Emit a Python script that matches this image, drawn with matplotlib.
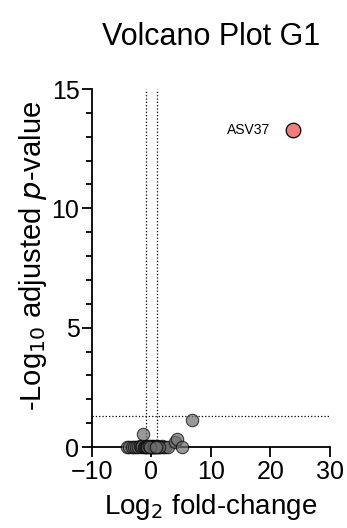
import matplotlib.pyplot as plt

plt.rcParams['font.family'] = ['Liberation Sans', 'DejaVu Sans']

# log2 fold-change and -log10 adjusted p-value
lfc = [-4.1, -3.7, -3.3, -2.9, -2.6, -2.3, -2.0, -1.8, -1.6, -1.3, -1.1, -0.9, -0.7,
       -0.5, -0.3, -0.1, 0.0, 0.0, 0.1, 0.3, 0.5, 0.7, 0.9, 1.1, 1.4, 1.7, 2.0, 2.3,
       2.7, -0.8, -0.4, 0.2, 0.4, 0.6, 1.0, 1.2, -0.2, 0.8,
       -1.4, 3.9, 4.3, 5.1, 6.8]
padj = [0.0, 0.0, 0.0, 0.0, 0.02, 0.0, 0.03, 0.0, 0.05, 0.0, 0.02, 0.0, 0.04,
        0.0, 0.02, 0.0, 0.0, 0.05, 0.0, 0.03, 0.0, 0.04, 0.0, 0.02, 0.0, 0.03, 0.0, 0.02,
        0.0, 0.01, 0.03, 0.02, 0.0, 0.01, 0.03, 0.0, 0.01, 0.02,
        0.54, 0.2, 0.33, 0.0, 1.13]
hit_lfc = [23.8]
hit_padj = [13.3]
hit_label = 'ASV37'

fc_cut = [-1, 1]
p_cut = 1.3

fig = plt.figure(figsize=(3.47, 5.28), dpi=100)
ax = fig.add_axes([0.265, 0.1534, 0.686, 0.678])

for x in fc_cut:
    ax.plot([x, x], [0, 15], ls=':', color='black', lw=0.9)
ax.plot([-10, 30], [p_cut, p_cut], ls=':', color='black', lw=0.9)

ax.scatter(lfc, padj, s=80, c='#6e6e6e', alpha=0.7, edgecolors='black', linewidths=0.8,
           clip_on=False, zorder=3)
ax.scatter(hit_lfc, hit_padj, s=110, c='#f47c7c', edgecolors='black', linewidths=0.9,
           clip_on=False, zorder=4)
ax.text(hit_lfc[0] - 3.9, hit_padj[0], hit_label, ha='right', va='center', fontsize=10)

ax.set_xlim(-10, 30)
ax.set_ylim(0, 15)
ax.set_xticks([-10, 0, 10, 20, 30])
ax.set_yticks([0, 5, 10, 15])
ax.set_yticks(range(0, 16), minor=True)
for s in ['top', 'right']:
    ax.spines[s].set_visible(False)
for s in ['left', 'bottom']:
    ax.spines[s].set_linewidth(1.3)
ax.tick_params(which='major', length=7, width=1.3, labelsize=18, direction='out', pad=2)
ax.tick_params(which='minor', length=4, width=1.3)

ax.set_xlabel('Log$_2$ fold-change', fontsize=20, labelpad=6)
ax.set_ylabel('-Log$_{10}$ adjusted $\\it{p}$-value', fontsize=21, labelpad=2)
ax.yaxis.label.set_y(0.535)
ax.set_title('Volcano Plot G1', fontsize=22, pad=32)

fig.savefig('out.png')
